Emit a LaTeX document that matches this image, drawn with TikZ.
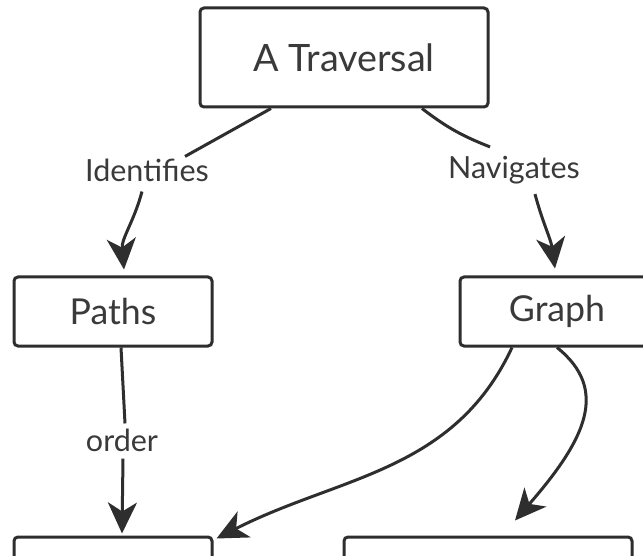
\documentclass[tikz,border=0pt]{standalone}
\usepackage{fontspec}
\setmainfont{Lato}
\usetikzlibrary{arrows.meta}
\definecolor{ink}{HTML}{2E2E2E}
\definecolor{txt}{HTML}{3A3A3A}
\begin{document}
\begin{tikzpicture}[x=1pt,y=-1pt,
  box/.style={draw=ink, line width=3pt, rounded corners=4pt, inner sep=0pt, text=txt, fill=white},
  lbl/.style={text=txt, font=\fontsize{30.5}{36}\selectfont, inner sep=0pt},
  conn/.style={draw=ink, line width=3pt},
  arr/.style={conn, -{Stealth[length=31pt,width=29pt,inset=9pt]}}]
\useasboundingbox (0,0) rectangle (643,556);
\clip (0,0) rectangle (643,556);
\fill[white] (0,0) rectangle (643,556);
\node[box, minimum width=288pt, minimum height=99pt, font=\fontsize{37.7}{45}\selectfont] (trav) at (344,57.5) {A Traversal};
\node[box, minimum width=198pt, minimum height=69pt, font=\fontsize{35.7}{42}\selectfont] (paths) at (113,311.5) {Paths};
\node[box, minimum width=194pt, minimum height=69pt, font=\fontsize{35.7}{42}\selectfont] (graph) at (557,311.5) {Graph};
\node[box, minimum width=198pt, minimum height=69pt] (bl) at (113,571.5) {};
\node[box, minimum width=288pt, minimum height=69pt] (br) at (488,571.5) {};
\node[lbl] (ident) at (147,170) {Identifies};
\node[lbl] (nav) at (514,170) {Navigates};
\node[lbl] (order) at (122,440) {order};
% top connectors
\draw[conn] ([xshift=-73pt]trav.south) -- ([xshift=38pt,yshift=2pt]ident.north);
\draw[conn] ([xshift=78pt]trav.south) to[bend right=8] ([xshift=-24pt,yshift=9pt]nav.north);
\draw[arr] ([xshift=-5pt,yshift=-10pt]ident.south) to[out=255,in=95] ([xshift=11pt,yshift=6pt]paths.north);
\draw[arr] ([xshift=21pt,yshift=-10pt]nav.south) to[out=-75,in=98] ([xshift=-2pt,yshift=7pt]graph.north);
% order
\draw[conn] ([xshift=8pt]paths.south) -- ([xshift=3pt,yshift=5pt]order.north);
\draw[arr] ([xshift=1pt,yshift=-7pt]order.south) -- ([xshift=9pt,yshift=2pt]bl.north);
% graph to bottom
\draw[arr] ([xshift=-45pt]graph.south) to[out=245,in=27] ([xshift=3pt,yshift=-3pt]bl.north east);
\draw[arr] (graph.south) .. controls (610,390) and (585,440) .. ([xshift=27pt,yshift=15pt]br.north);
\end{tikzpicture}
\end{document}
